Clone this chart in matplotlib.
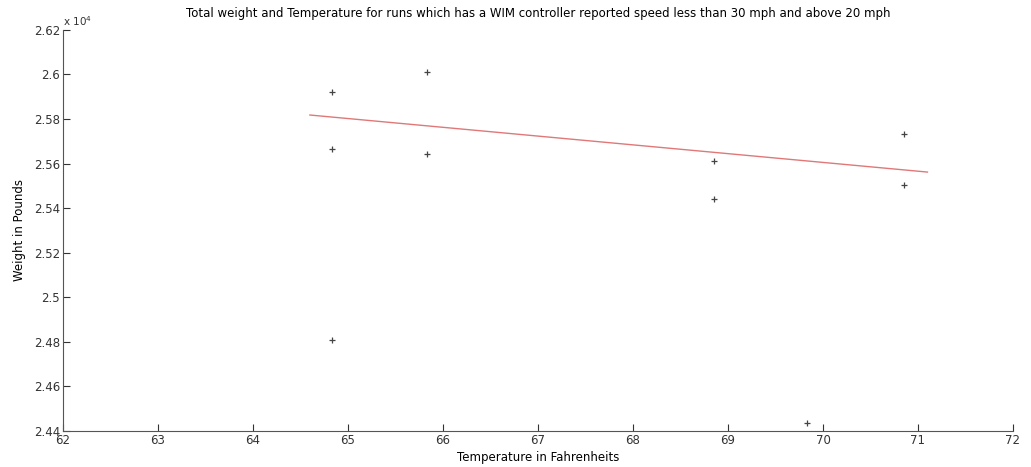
import matplotlib
matplotlib.use('Agg')
import matplotlib.pyplot as plt
from matplotlib.ticker import FuncFormatter
import numpy as np

# runs with WIM reported speed between 20 and 30 mph
temp_f = [64.83, 64.83, 64.83, 65.83, 65.83, 68.85, 68.85, 69.83, 70.85, 70.85]
weight_lb = [25920, 25665, 24810, 26010, 25643, 25612, 25441, 24436, 25733, 25504]

# trend line end points
fit_x = [64.6, 71.1]
fit_y = [25818, 25562]

xticks = np.arange(62, 73, 1)
yticks = np.arange(24400, 26201, 200)

plt.rcParams['font.family'] = 'DejaVu Sans'
fig = plt.figure(figsize=(10.31, 4.67), dpi=100)
ax = fig.add_axes([0.061, 0.077, 0.9215, 0.859])

ax.plot(temp_f, weight_lb, '+', color='#444444', markersize=5, markeredgewidth=0.9)
ax.plot(fit_x, fit_y, color='#e07878', linewidth=1.0)

ax.set_xlim(62, 72)
ax.set_ylim(24400, 26200)
ax.set_xticks(xticks)
ax.set_yticks(yticks)
ax.yaxis.set_major_formatter(FuncFormatter(lambda v, p: '%g' % round(v / 1e4, 4)))
ax.tick_params(direction='in', length=5, labelsize=8.5, colors='#333333', pad=2)
for s in ['top', 'right']:
    ax.spines[s].set_visible(False)
for s in ['left', 'bottom']:
    ax.spines[s].set_color('#555555')

ax.text(0.0, 1.005, r'x 10$^4$', transform=ax.transAxes, fontsize=7.5, color='#333333',
        ha='left', va='bottom')
ax.set_title('Total weight and Temperature for runs which has a WIM controller reported speed less than 30 mph and above 20 mph',
             fontsize=8.5, pad=9)
ax.set_xlabel('Temperature in Fahrenheits', fontsize=8.5, labelpad=3)
ax.set_ylabel('Weight in Pounds', fontsize=8.5, labelpad=6)

fig.savefig('out.png', dpi=100)
